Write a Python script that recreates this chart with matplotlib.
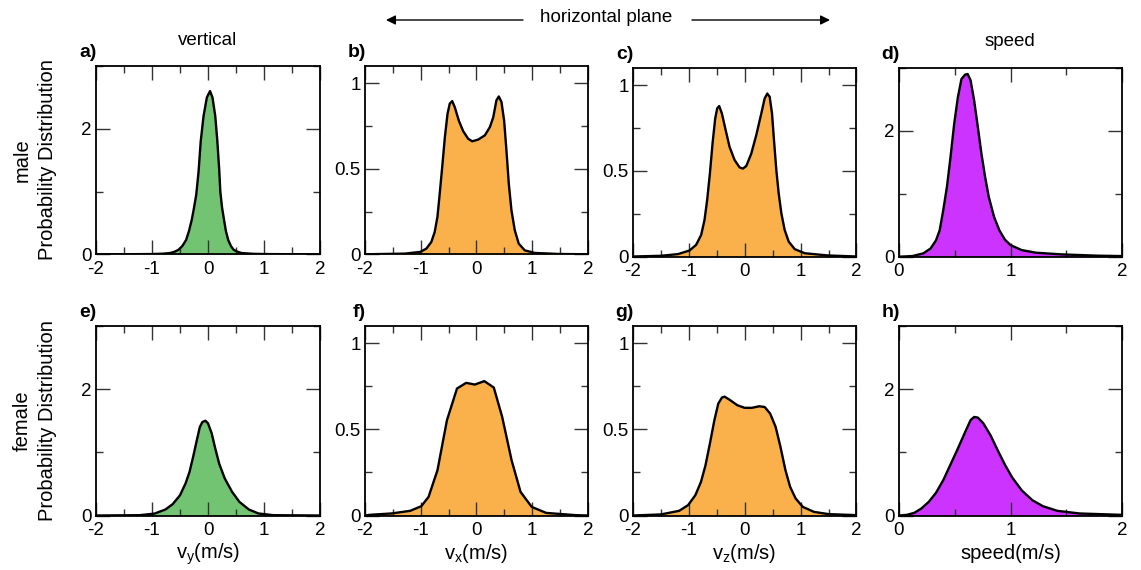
import matplotlib
matplotlib.use("Agg")
import matplotlib.pyplot as plt
from matplotlib.patches import FancyArrowPatch
from matplotlib.ticker import MultipleLocator, FuncFormatter

plt.rcParams['font.family'] = ['Liberation Sans', 'DejaVu Sans']
plt.rcParams['axes.unicode_minus'] = False
plt.rcParams['mathtext.fontset'] = 'custom'
plt.rcParams['mathtext.rm'] = 'Liberation Sans'

# velocity distributions, male row
male_vy_x = [-2.0, -1.5, -1.0, -0.8, -0.68, -0.6, -0.53, -0.46, -0.39, -0.34, -0.29, -0.25, -0.21,
             -0.17, -0.13, -0.08, -0.02, 0.036, 0.08, 0.13, 0.167, 0.2, 0.22, 0.25, 0.286, 0.32,
             0.36, 0.41, 0.46, 0.53, 0.6, 0.8, 1.0, 1.5, 2.0]
male_vy_y = [0.0, 0.001, 0.004, 0.01, 0.02, 0.04, 0.07, 0.13, 0.23, 0.37, 0.55, 0.74, 0.95,
             1.3, 1.8, 2.2, 2.5, 2.6, 2.5, 2.2, 1.8, 1.35, 1.0, 0.75, 0.55, 0.37,
             0.23, 0.13, 0.07, 0.04, 0.02, 0.008, 0.004, 0.001, 0.0]

male_vx_x = [-2.0, -1.28, -1.01, -0.9, -0.81, -0.75, -0.7, -0.66, -0.615, -0.567, -0.52, -0.48,
             -0.436, -0.39, -0.316, -0.24, -0.15, -0.078, 0.03, 0.15, 0.24, 0.3, 0.358, 0.4,
             0.448, 0.496, 0.537, 0.58, 0.627, 0.687, 0.758, 0.866, 1.045, 1.46, 2.0]
male_vx_y = [0.0, 0.004, 0.014, 0.033, 0.072, 0.13, 0.22, 0.354, 0.51, 0.685, 0.82, 0.88,
             0.895, 0.86, 0.78, 0.72, 0.675, 0.66, 0.67, 0.695, 0.743, 0.8, 0.9, 0.922,
             0.89, 0.78, 0.607, 0.41, 0.257, 0.14, 0.062, 0.023, 0.008, 0.002, 0.0]

male_vz_x = [-2.0, -1.5, -1.19, -0.985, -0.866, -0.776, -0.716, -0.669, -0.62, -0.573, -0.525,
             -0.49, -0.454, -0.406, -0.346, -0.269, -0.179, -0.09, -0.03, 0.03, 0.119, 0.209,
             0.299, 0.358, 0.406, 0.448, 0.49, 0.525, 0.567, 0.609, 0.657, 0.716, 0.788, 0.896,
             1.075, 1.49, 2.0]
male_vz_y = [0.0, 0.004, 0.014, 0.035, 0.068, 0.126, 0.214, 0.33, 0.485, 0.66, 0.806,
             0.864, 0.878, 0.835, 0.748, 0.64, 0.563, 0.52, 0.513, 0.528, 0.6, 0.709,
             0.835, 0.922, 0.951, 0.932, 0.835, 0.68, 0.505, 0.369, 0.252, 0.155, 0.087, 0.043,
             0.019, 0.006, 0.0]

male_sp_x = [0.0, 0.12, 0.218, 0.283, 0.332, 0.365, 0.397, 0.43, 0.462, 0.495, 0.528, 0.56,
             0.593, 0.616, 0.642, 0.674, 0.707, 0.739, 0.772, 0.805, 0.853, 0.9, 0.95, 1.0,
             1.1, 1.23, 1.456, 1.78, 2.0]
male_sp_y = [0.0, 0.01, 0.053, 0.13, 0.26, 0.42, 0.74, 1.11, 1.58, 2.11, 2.53, 2.82,
             2.89, 2.9, 2.8, 2.48, 2.06, 1.64, 1.27, 0.95, 0.63, 0.42, 0.27, 0.185,
             0.105, 0.063, 0.037, 0.016, 0.01]

# female row
female_vy_x = [-2.0, -1.22, -0.955, -0.76, -0.63, -0.5, -0.4, -0.33, -0.265, -0.2, -0.146, -0.1,
               -0.046, 0.0, 0.066, 0.13, 0.2, 0.3, 0.43, 0.56, 0.73, 0.9, 1.17, 2.0]
female_vy_y = [0.0, 0.005, 0.03, 0.095, 0.18, 0.32, 0.51, 0.69, 0.93, 1.19, 1.40, 1.48,
               1.5, 1.46, 1.3, 1.06, 0.82, 0.585, 0.375, 0.216, 0.095, 0.032, 0.005, 0.0]

female_vx_x = [-2.0, -1.91, -1.52, -1.19, -0.99, -0.86, -0.7, -0.53, -0.35, -0.185, -0.03, 0.14,
               0.31, 0.46, 0.63, 0.79, 0.99, 1.25, 1.78, 2.0]
female_vx_y = [0.0, 0.004, 0.012, 0.027, 0.054, 0.108, 0.263, 0.553, 0.737, 0.77, 0.76, 0.78,
               0.743, 0.573, 0.32, 0.137, 0.05, 0.015, 0.002, 0.0]

female_vz_x = [-2.0, -1.5, -1.17, -1.01, -0.88, -0.78, -0.7, -0.62, -0.54, -0.47, -0.404, -0.358,
               -0.26, -0.13, 0.0, 0.13, 0.26, 0.358, 0.456, 0.554, 0.64, 0.73, 0.814, 0.912,
               1.04, 1.24, 1.5, 2.0]
female_vz_y = [0.0, 0.006, 0.027, 0.06, 0.118, 0.195, 0.29, 0.418, 0.553, 0.65, 0.685, 0.69,
               0.67, 0.64, 0.625, 0.625, 0.634, 0.63, 0.592, 0.515, 0.4, 0.263, 0.166, 0.099,
               0.05, 0.021, 0.008, 0.002]

female_sp_x = [0.0, 0.07, 0.137, 0.2, 0.267, 0.332, 0.397, 0.46, 0.528, 0.593, 0.642, 0.674,
               0.707, 0.756, 0.821, 0.886, 0.951, 1.016, 1.1, 1.195, 1.29, 1.42, 1.62, 2.0]
female_sp_y = [0.0, 0.01, 0.042, 0.11, 0.216, 0.36, 0.56, 0.8, 1.06, 1.32, 1.51, 1.56,
               1.55, 1.46, 1.27, 1.03, 0.8, 0.6, 0.4, 0.243, 0.148, 0.074, 0.032, 0.01]

green = '#72C472'
orange = '#FBB14B'
purple = '#CC33FF'

W, H = 1141, 570
fig = plt.figure(figsize=(W / 100, H / 100), dpi=100)


def add_ax(x0, x1, y0, y1):
    # place an axes from pixel edges measured from the top-left corner
    return fig.add_axes([x0 / W, 1 - y1 / H, (x1 - x0) / W, (y1 - y0) / H])


panels = [
    (add_ax(96, 320, 66, 254.3), male_vy_x, male_vy_y, green, 'vel', 3, 'a)'),
    (add_ax(365, 588, 66, 254.3), male_vx_x, male_vx_y, orange, 'vel', 1.1, 'b)'),
    (add_ax(632.7, 856.5, 68, 256.5), male_vz_x, male_vz_y, orange, 'vel', 1.1, 'c)'),
    (add_ax(899, 1122, 67.7, 256.7), male_sp_x, male_sp_y, purple, 'speed', 3, 'd)'),
    (add_ax(96, 320, 326, 515.5), female_vy_x, female_vy_y, green, 'vel', 3, 'e)'),
    (add_ax(365, 588, 326, 515.5), female_vx_x, female_vx_y, orange, 'vel', 1.1, 'f)'),
    (add_ax(632.7, 856.5, 326, 515.5), female_vz_x, female_vz_y, orange, 'vel', 1.1, 'g)'),
    (add_ax(899, 1122, 326, 515.5), female_sp_x, female_sp_y, purple, 'speed', 3, 'h)'),
]

fmt = FuncFormatter(lambda v, p: '%g' % v)

for ax, x, y, c, kind, ymax, tag in panels:
    ax.fill_between(x, y, 0, color=c, lw=0)
    ax.plot(x, y, color='black', lw=1.7, solid_joinstyle='round')
    if kind == 'vel':
        ax.set_xlim(-2, 2)
    else:
        ax.set_xlim(0, 2)
    ax.xaxis.set_major_locator(MultipleLocator(1))
    ax.xaxis.set_minor_locator(MultipleLocator(0.5))
    ax.set_ylim(0, ymax)
    if ymax > 2:
        ax.yaxis.set_major_locator(MultipleLocator(2))
        ax.yaxis.set_minor_locator(MultipleLocator(1))
    else:
        ax.yaxis.set_major_locator(MultipleLocator(0.5))
        ax.yaxis.set_minor_locator(MultipleLocator(0.25))
    ax.xaxis.set_major_formatter(fmt)
    ax.yaxis.set_major_formatter(fmt)
    ax.tick_params(which='both', direction='in', top=True, right=True, labelsize=13.5,
                   width=1.0, color='#333333')
    ax.tick_params(axis='y', pad=3)
    ax.tick_params(axis='x', pad=4.5)
    ax.tick_params(which='major', length=10)
    ax.tick_params(which='minor', length=5)
    for s in ax.spines.values():
        s.set_linewidth(1.3)
    pos = ax.get_position()
    fig.text(pos.x0 + 1 / W, pos.y1 + 9 / H, tag,
             ha='right', va='baseline', fontsize=14, fontweight='bold')

fig.text(208 / W, 1 - 45 / H, 'vertical', ha='center', va='baseline', fontsize=13.5)
fig.text(1010 / W, 1 - 46 / H, 'speed', ha='center', va='baseline', fontsize=13.5)
fig.text(606 / W, 1 - 18 / H, 'horizontal plane', ha='center', va='center', fontsize=13.5)

arrow = dict(arrowstyle='-|>', color='black', lw=1.0, mutation_scale=14, shrinkA=0, shrinkB=0,
             transform=fig.transFigure)
fig.add_artist(FancyArrowPatch((523 / W, 1 - 20 / H), (386 / W, 1 - 20 / H), **arrow))
fig.add_artist(FancyArrowPatch((692 / W, 1 - 20 / H), (830 / W, 1 - 20 / H), **arrow))

# row labels
for yc, word in [(160, 'male'), (421, 'female')]:
    fig.text(22 / W, 1 - yc / H, word, rotation=90, ha='center', va='center', fontsize=14.5)
    fig.text(48 / W, 1 - yc / H, 'Probability Distribution', rotation=90,
             ha='center', va='center', fontsize=14.5)

# x axis labels under the bottom row
xlabels = [r'$\mathregular{v_y(m/s)}$', r'$\mathregular{v_x(m/s)}$',
           r'$\mathregular{v_z(m/s)}$', 'speed(m/s)']
for ax, lab in zip([p[0] for p in panels[4:]], xlabels):
    pos = ax.get_position()
    fig.text((pos.x0 + pos.x1) / 2, 1 - 559 / H, lab, ha='center', va='baseline', fontsize=14.5)

fig.savefig('out.png', dpi=100)
